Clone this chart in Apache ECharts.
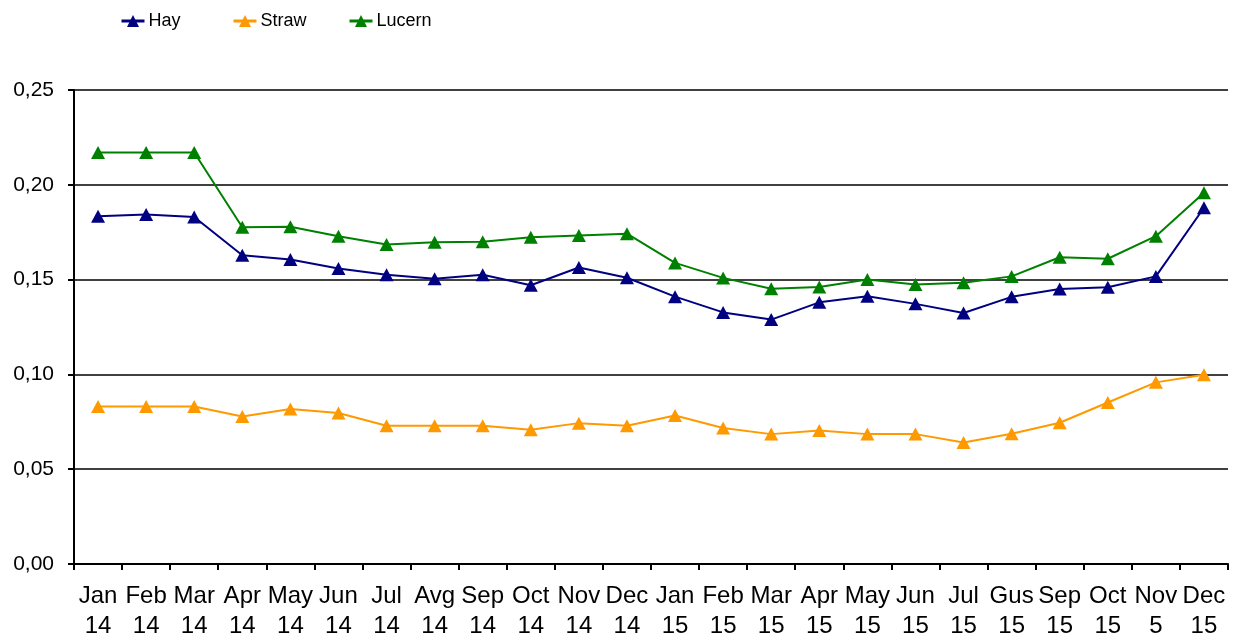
<!DOCTYPE html>
<html>
<head>
<meta charset="utf-8">
<script src="https://cdn.jsdelivr.net/npm/echarts@6/dist/echarts.min.js"></script>
<style>html,body{margin:0;padding:0;background:#fff}#c{width:1241px;height:639px}</style>
</head>
<body>
<div id="c"></div>
<script>
const categories = ["Jan\n14","Feb\n14","Mar\n14","Apr\n14","May\n14","Jun\n14","Jul\n14","Avg\n14","Sep\n14","Oct\n14","Nov\n14","Dec\n14",
  "Jan\n15","Feb\n15","Mar\n15","Apr\n15","May\n15","Jun\n15","Jul\n15","Gus\n15","Sep\n15","Oct\n15","Nov\n5","Dec\n15"];
const hay = [0.1834,0.1843,0.1830,0.1628,0.1606,0.1558,0.1526,0.1504,0.1526,0.1470,0.1564,0.1510,
  0.1410,0.1327,0.1289,0.1380,0.1412,0.1372,0.1324,0.1409,0.1451,0.1460,0.1517,0.1879];
const straw = [0.0831,0.0831,0.0831,0.0778,0.0817,0.0796,0.0729,0.0729,0.0729,0.0708,0.0743,0.0729,
  0.0783,0.0717,0.0685,0.0704,0.0685,0.0685,0.0641,0.0687,0.0745,0.0852,0.0958,0.0998];
const lucern = [0.2170,0.2170,0.2170,0.1776,0.1779,0.1729,0.1685,0.1697,0.1700,0.1723,0.1733,0.1742,
  0.1588,0.1509,0.1452,0.1461,0.1500,0.1474,0.1483,0.1517,0.1618,0.1610,0.1729,0.1958];
const yTicks = {min:0, max:0.25, interval:0.05};

const font = "Liberation Sans, Arial, sans-serif";
function mkSeries(name, data, color){
  return {name, type:'line', data, symbol:'triangle', symbolSize:[14,13],
    lineStyle:{color, width:2}, itemStyle:{color}, animation:false};
}
function mkLegend(name, left){
  return {data:[name], left, top:7, itemWidth:23, itemHeight:15, itemGap:4,
    lineStyle:{width:3},
    textStyle:{fontFamily:font, fontSize:18, color:'#000', padding:[0,0,0,-1]}};
}
const chart = echarts.init(document.getElementById('c'));
chart.setOption({
  backgroundColor:'#fff',
  animation:false,
  legend:[mkLegend('Hay',115), mkLegend('Straw',227), mkLegend('Lucern',343)],
  grid:{left:74, right:13, top:90, bottom:75, containLabel:false, outerBoundsMode:'none'},
  xAxis:{type:'category', data:categories, boundaryGap:true,
    axisLine:{lineStyle:{color:'#000', width:2}},
    axisTick:{show:true, alignWithLabel:false, length:6, lineStyle:{color:'#000', width:2}},
    axisLabel:{fontFamily:font, fontSize:24, color:'#000', lineHeight:30, margin:17, interval:0}},
  yAxis:{type:'value', min:yTicks.min, max:yTicks.max, interval:yTicks.interval,
    axisLine:{show:true, lineStyle:{color:'#000', width:2}},
    axisTick:{show:true, length:6, lineStyle:{color:'#000', width:2}},
    splitLine:{lineStyle:{color:'#000', width:1.5}},
    axisLabel:{fontFamily:font, fontSize:21, color:'#000', margin:20,
      formatter:v=>v.toFixed(2).replace('.',',')}},
  series:[mkSeries('Hay',hay,'#000080'), mkSeries('Straw',straw,'#FF9900'), mkSeries('Lucern',lucern,'#008000')]
});
</script>
</body>
</html>
